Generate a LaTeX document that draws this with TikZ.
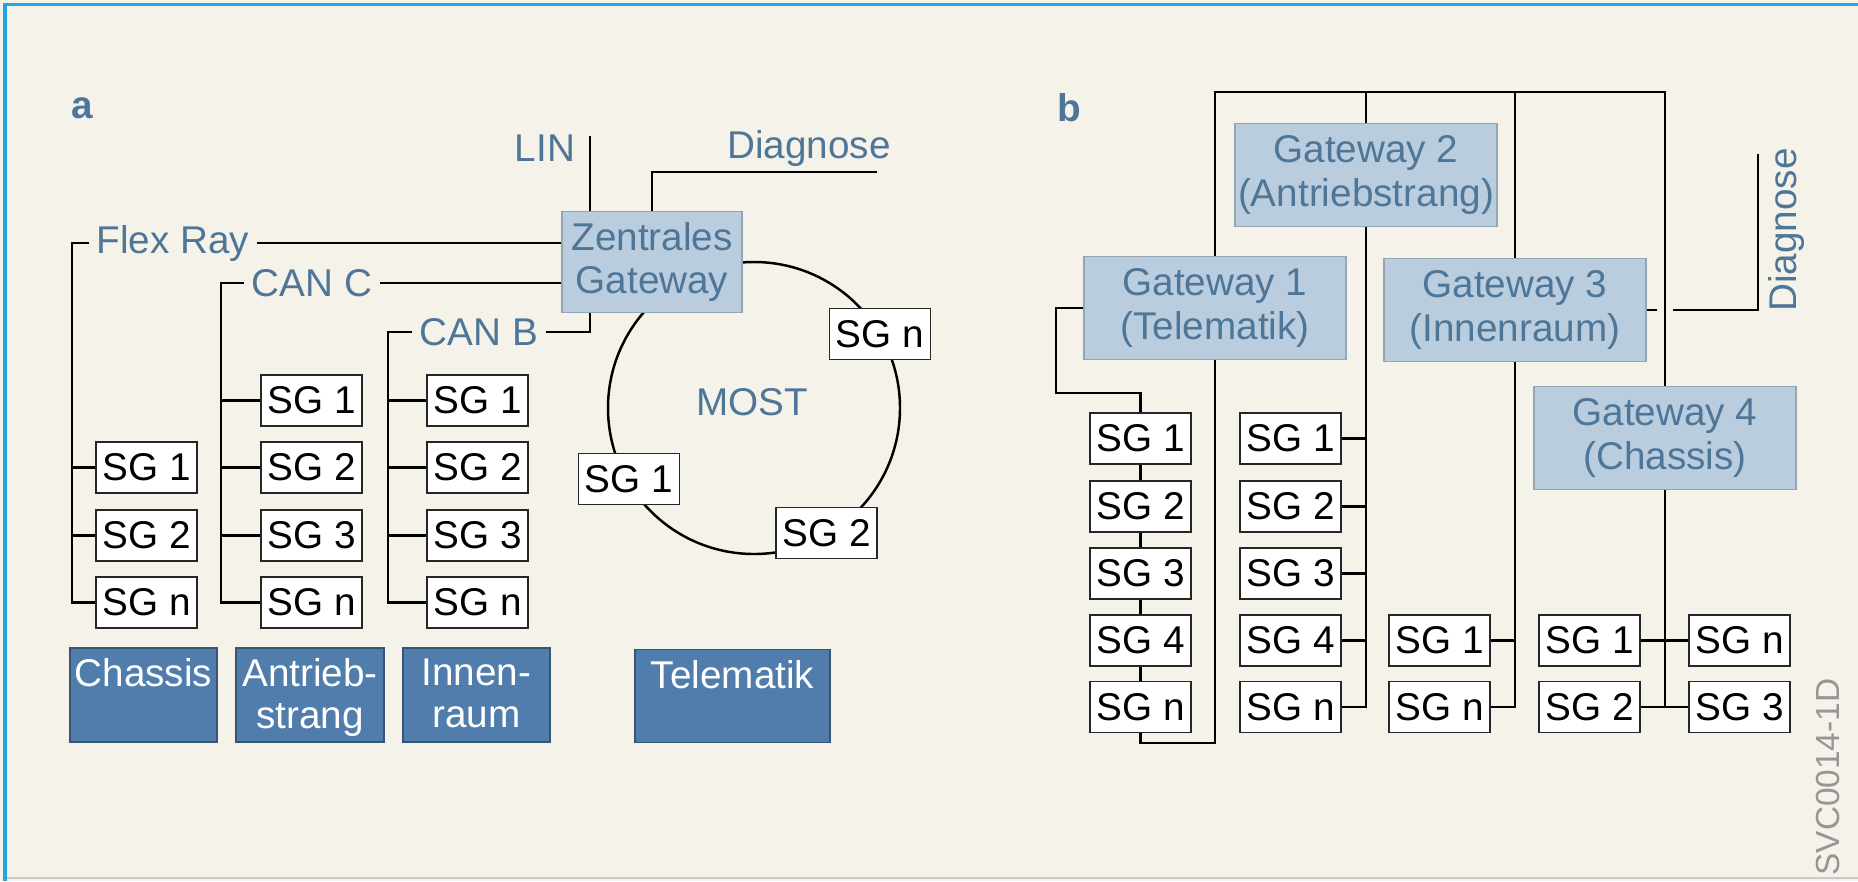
\documentclass[tikz,border=0pt]{standalone}
\usepackage{fontspec}
\setmainfont{Liberation Sans}
\usepackage{xcolor}
\definecolor{bgcol}{RGB}{245,242,233}
\definecolor{gwfill}{RGB}{186,205,223}
\definecolor{gwline}{RGB}{150,165,180}
\definecolor{bluetext}{RGB}{78,118,152}
\definecolor{domfill}{RGB}{80,125,172}
\definecolor{domline}{RGB}{55,85,115}
\definecolor{frameblue}{RGB}{35,165,228}
\definecolor{svcgray}{RGB}{150,150,150}

\begin{document}
\begin{tikzpicture}[x=0.01cm,y=-0.01cm]
	 \tikzstyle{every node}=[font=\fontsize{11}{12.5}\selectfont]
	 \tikzstyle{sg}=[draw=black!85,line width=0.5pt,fill=white,minimum width=1.01cm,minimum height=0.51cm,inner sep=0pt]
	 \tikzstyle{gateway}=[draw=gwline,line width=0.5pt,fill=gwfill,text=bluetext,align=center,minimum width=2.62cm,minimum height=1.03cm,inner sep=0pt]
	 \tikzstyle{buslabel}=[text=bluetext,inner sep=2pt]
	 \tikzstyle{areabox}=[fill=domfill,draw=domline,line width=0.5pt,text=white,inner sep=0pt]
	 \tikzstyle{edge}=[draw,line width=0.7pt,black]

	 \useasboundingbox (0,0) rectangle (1858,881);
	 \fill[bgcol] (0,0) rectangle (1858,881);
	 \draw[svcgray!50,line width=0.6pt] (5,878) -- (1858,878);
	 \draw[frameblue,line width=0.03cm] (5,881) -- (5,4) -- (1858,4);

	 % a
	 \node[buslabel,font=\fontsize{11}{12.5}\selectfont\bfseries] (la) at (82,108) {a};
	 \node[buslabel] (most) at (752,402) {MOST};
	 \draw[edge] (754,408) circle [radius=146];

	 \node[gateway,minimum width=1.80cm,minimum height=1.01cm] (zgw) at (652,262) {Zentrales\\Gateway};
	 \node[buslabel] (lin) 	at (545,148) {LIN};
	 \node[buslabel] (diag) 	at (809,148) {Diagnose};
	 \node[buslabel] (flex) 	at (173,243) {Flex Ray};
	 \node[buslabel] (canc) 	at (312,283) {CAN C};
	 \node[buslabel] (canb) 	at (479,332) {CAN B};

	 \node[sg] (a11) at (146.5,467.5) {SG 1};
	 \node[sg] (a12) at (146.5,535.5) {SG 2};
	 \node[sg] (a1n) at (146.5,602.5) {SG n};
	 \node[sg] (a21) at (311.5,400.5) {SG 1};
	 \node[sg] (a22) at (311.5,467.5) {SG 2};
	 \node[sg] (a23) at (311.5,535.5) {SG 3};
	 \node[sg] (a2n) at (311.5,602.5) {SG n};
	 \node[sg] (a31) at (477.5,400.5) {SG 1};
	 \node[sg] (a32) at (477.5,467.5) {SG 2};
	 \node[sg] (a33) at (477.5,535.5) {SG 3};
	 \node[sg] (a3n) at (477.5,602.5) {SG n};
	 \node[sg] (m1) at (629,479) {SG 1};
	 \node[sg] (m2) at (826.5,533) {SG 2};
	 \node[sg] (mn) at (880,334) {SG n};

	 \node[areabox] (d1) at (143.5,695) {\parbox[c][0.94cm][t]{1.47cm}{\fontsize{11}{12}\selectfont\centering\vspace{3pt}Chassis}};
	 \node[areabox] (d2) at (310,695) {\parbox[c][0.94cm][t]{1.48cm}{\fontsize{11}{12}\selectfont\centering\vspace{3pt}Antrieb-\\strang}};
	 \node[areabox] (d3) at (476.5,695) {\parbox[c][0.94cm][t]{1.47cm}{\fontsize{11}{12}\selectfont\centering\vspace{3pt}Innen-\\raum}};
	 \node[areabox] (d4) at (732.5,696) {\parbox[c][0.93cm][t]{1.95cm}{\fontsize{11}{12}\selectfont\centering\vspace{3pt}Telematik}};

	 \coordinate (lintop) at (590,136);
	 \coordinate (diagend) at (877,172);
	 \coordinate (fxk) at (72,243);
	 \coordinate (cck) at (221,283);
	 \coordinate (cbk) at (388,332);

	 \draw[edge] (lintop) -- (lintop |- zgw.north);
	 \draw[edge] (diagend) -| (zgw.north);
	 \draw[edge] (flex.east) -- (flex.east -| zgw.west);
	 \draw[edge] (canc.east) -- (canc.east -| zgw.west);
	 \draw[edge] (canb.east) -| (lintop |- zgw.south);
	 \draw[edge] (flex.west) -- (fxk) |- (a1n.west);
	 \draw[edge] (fxk |- a11.west) -- (a11.west);
	 \draw[edge] (fxk |- a12.west) -- (a12.west);
	 \draw[edge] (canc.west) -- (cck) |- (a2n.west);
	 \draw[edge] (cck |- a21.west) -- (a21.west);
	 \draw[edge] (cck |- a22.west) -- (a22.west);
	 \draw[edge] (cck |- a23.west) -- (a23.west);
	 \draw[edge] (canb.west) -- (cbk) |- (a3n.west);
	 \draw[edge] (cbk |- a31.west) -- (a31.west);
	 \draw[edge] (cbk |- a32.west) -- (a32.west);
	 \draw[edge] (cbk |- a33.west) -- (a33.west);

	 % b
	 \node[buslabel,font=\fontsize{11}{12.5}\selectfont\bfseries] (lb) at (1069,108) {b};
	 \node[gateway] (g2) at (1366,175) {Gateway 2\\(Antriebstrang)};
	 \node[gateway] (g1) at (1215,308) {Gateway 1\\(Telematik)};
	 \node[gateway] (g3) at (1515,310) {Gateway 3\\(Innenraum)};
	 \node[gateway] (g4) at (1665,438) {Gateway 4\\(Chassis)};
	 \node[buslabel,rotate=90] (diagb) at (1786,230) {Diagnose};
	 \node[text=svcgray,font=\fontsize{9.5}{10}\selectfont,rotate=90] (svc) at (1828,777) {SVC0014-1D};

	 \node[sg] (b11) at (1140.5,438.5) {SG 1};
	 \node[sg] (b12) at (1140.5,506.5) {SG 2};
	 \node[sg] (b13) at (1140.5,573.5) {SG 3};
	 \node[sg] (b14) at (1140.5,640.5) {SG 4};
	 \node[sg] (b1n) at (1140.5,707) {SG n};
	 \node[sg] (b21) at (1290.5,438.5) {SG 1};
	 \node[sg] (b22) at (1290.5,506.5) {SG 2};
	 \node[sg] (b23) at (1290.5,573.5) {SG 3};
	 \node[sg] (b24) at (1290.5,640.5) {SG 4};
	 \node[sg] (b2n) at (1290.5,707) {SG n};
	 \node[sg] (b31) at (1439.5,640.5) {SG 1};
	 \node[sg] (b3n) at (1439.5,707) {SG n};
	 \node[sg] (b41) at (1589.5,640.5) {SG 1};
	 \node[sg] (b42) at (1589.5,707) {SG 2};
	 \node[sg] (b5n) at (1739.5,640.5) {SG n};
	 \node[sg] (b53) at (1739.5,707) {SG 3};

	 \coordinate (bus) at (0,92);
	 \coordinate (g1k) at (1056,393);
	 \coordinate (g1end) at (1215,743);
	 \coordinate (dgtop) at (1758,154);
	 \coordinate (gapl) at (1657,310);
	 \coordinate (gapr) at (1673,310);

	 \draw[edge] (g1.north) -- (g1.north |- bus) -- (g4.north |- bus) -- (g4.north);
	 \draw[edge] (g2.north) -- (g2.north |- bus);
	 \draw[edge] (g3.north) -- (g3.north |- bus);
	 \draw[edge] (g3.east) -- (gapl);
	 \draw[edge] (gapr) -| (dgtop);
	 \draw[edge] (g1.west) -| (g1k) -| (b11.north);
	 \draw[edge] (b11) -- (b12) -- (b13) -- (b14) -- (b1n);
	 \draw[edge] (b1n.south) |- (g1end) -- (g1.south);
	 \draw[edge] (g2.south) |- (b2n.east);
	 \draw[edge] (b21.east) -- (b21.east -| g2.south);
	 \draw[edge] (b22.east) -- (b22.east -| g2.south);
	 \draw[edge] (b23.east) -- (b23.east -| g2.south);
	 \draw[edge] (b24.east) -- (b24.east -| g2.south);
	 \draw[edge] (g3.south) |- (b3n.east);
	 \draw[edge] (b31.east) -- (b31.east -| g3.south);
	 \draw[edge] (g4.south) -- (g4.south |- b53.west);
	 \draw[edge] (b41.east) -- (b5n.west);
	 \draw[edge] (b42.east) -- (b53.west);
 \end{tikzpicture}
\end{document}
